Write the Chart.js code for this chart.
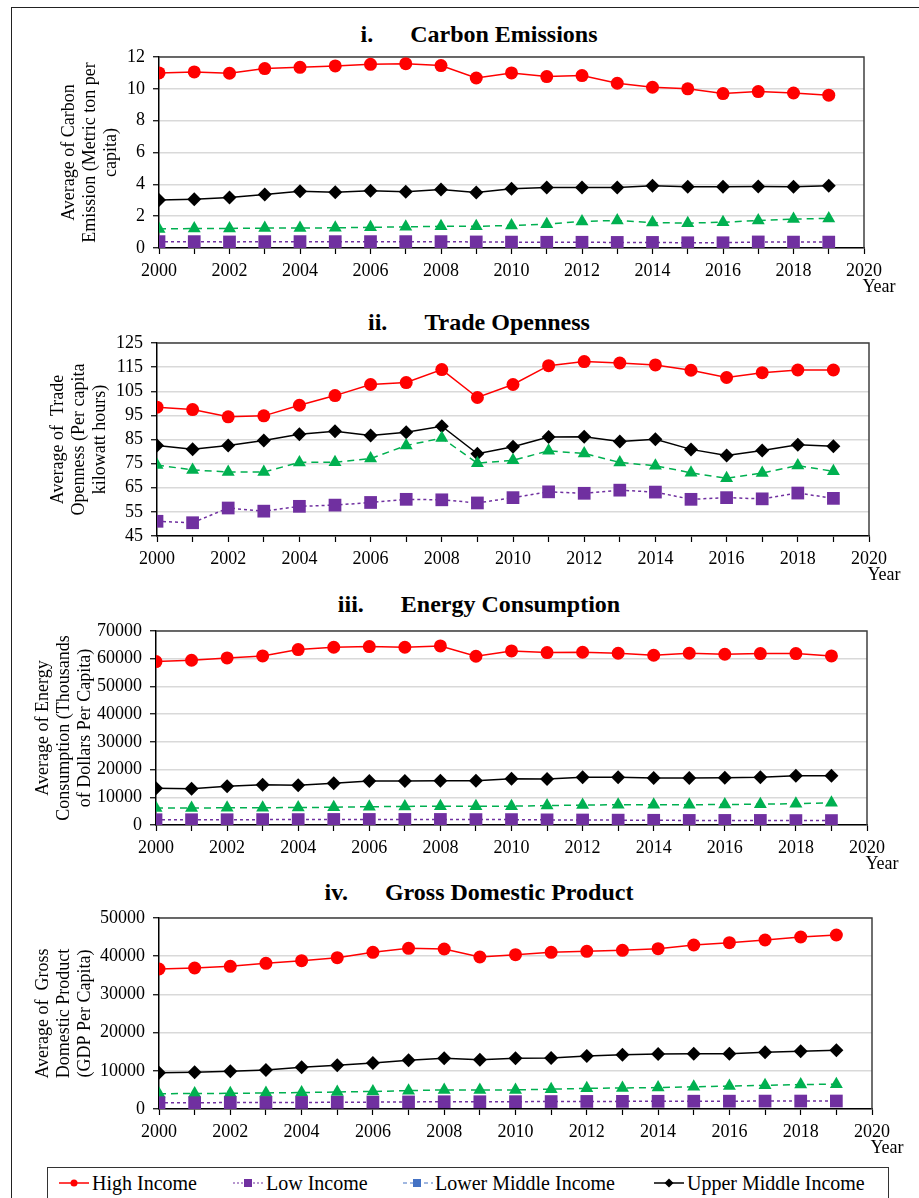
<!DOCTYPE html>
<html>
<head>
<meta charset="utf-8">
<script src="https://cdn.jsdelivr.net/npm/chart.js@4.4.0/dist/chart.umd.min.js"></script>
<style>
body { margin:0; background:#fff; font-family:"Liberation Serif", "Times New Roman", serif; }
#page { position:relative; width:919px; height:1198px; overflow:hidden; background:#fff; }
#frame { position:absolute; left:11px; top:7px; width:1000px; height:1300px; border-left:1.5px solid #222; border-top:1.5px solid #222; }
.ttl { position:absolute; left:0; width:958px; text-align:center; font-weight:bold; font-size:24px; line-height:28px; white-space:pre; color:#000; }
.ttl .w { margin-left:37px; }
canvas.c { position:absolute; left:0; }
#legend { position:absolute; left:47px; top:1167px; width:840px; height:80px; border:1.5px solid #333; }
.lt { position:absolute; top:1171px; font-size:20px; line-height:24px; white-space:nowrap; color:#000; }
.lm { position:absolute; top:1177px; }
</style>
</head>
<body>
<div id="page">
  <div id="frame"></div>

  <div class="ttl" style="top:20px">i.<span class="w">Carbon Emissions</span></div>
  <div class="ttl" style="top:308px">ii.<span class="w">Trade Openness</span></div>
  <div class="ttl" style="top:590px">iii.<span class="w">Energy Consumption</span></div>
  <div class="ttl" style="top:878px">iv.<span class="w">Gross Domestic Product</span></div>

  <canvas class="c" id="c1"></canvas>
  <canvas class="c" id="c2"></canvas>
  <canvas class="c" id="c3"></canvas>
  <canvas class="c" id="c4"></canvas>

  <div id="legend"></div>
  <svg class="lm" style="left:59px" width="30" height="12"><line x1="0" y1="6" x2="30" y2="6" stroke="#ff0000" stroke-width="1.5"/><circle cx="15" cy="6" r="3.5" fill="#ff0000"/></svg>
  <div class="lt" style="left:92px">High Income</div>
  <svg class="lm" style="left:233px" width="30" height="12"><line x1="0" y1="6" x2="30" y2="6" stroke="#7030a0" stroke-width="1.2" stroke-dasharray="2,2"/><rect x="11" y="2" width="8" height="8" fill="#7030a0"/></svg>
  <div class="lt" style="left:266px">Low Income</div>
  <svg class="lm" style="left:403px" width="30" height="12"><line x1="0" y1="6" x2="30" y2="6" stroke="#4472c4" stroke-width="1.2" stroke-dasharray="4,3"/><rect x="10" y="2" width="8" height="8" fill="#4472c4"/></svg>
  <div class="lt" style="left:435px">Lower Middle Income</div>
  <svg class="lm" style="left:654px" width="30" height="12"><line x1="0" y1="6" x2="30" y2="6" stroke="#000" stroke-width="1.5"/><polygon points="15,1.5 19.5,6 15,10.5 10.5,6" fill="#000"/></svg>
  <div class="lt" style="left:687px">Upper Middle Income</div>
</div>

<script>
const years = [2000, 2001, 2002, 2003, 2004, 2005, 2006, 2007, 2008, 2009,
               2010, 2011, 2012, 2013, 2014, 2015, 2016, 2017, 2018, 2019];
const seriesNames = ["High Income", "Low Income", "Lower Middle Income", "Upper Middle Income"];

// i. Carbon Emissions
const carbonHigh  = [11.0, 11.06, 10.98, 11.27, 11.35, 11.44, 11.54, 11.58, 11.46, 10.68, 11.0, 10.77, 10.83, 10.35, 10.1, 10.0, 9.7, 9.83, 9.74, 9.6];
const carbonLow   = [0.4, 0.4, 0.38, 0.4, 0.4, 0.4, 0.4, 0.4, 0.4, 0.38, 0.37, 0.36, 0.36, 0.35, 0.35, 0.33, 0.33, 0.38, 0.37, 0.37];
const carbonLower = [1.2, 1.22, 1.23, 1.25, 1.25, 1.27, 1.3, 1.33, 1.36, 1.36, 1.42, 1.5, 1.67, 1.73, 1.6, 1.56, 1.62, 1.73, 1.82, 1.86];
const carbonUpper = [3.01, 3.07, 3.17, 3.36, 3.57, 3.51, 3.59, 3.53, 3.68, 3.49, 3.72, 3.8, 3.8, 3.8, 3.91, 3.85, 3.85, 3.87, 3.85, 3.91];

// ii. Trade Openness
const tradeHigh  = [98.4, 97.4, 94.4, 94.8, 99.2, 103.2, 107.8, 108.6, 114.0, 102.4, 107.8, 115.6, 117.3, 116.7, 115.9, 113.7, 110.7, 112.7, 113.8, 113.8];
const tradeLow   = [51.1, 50.5, 56.6, 55.3, 57.3, 57.8, 58.9, 60.2, 60.0, 58.7, 60.9, 63.3, 62.7, 64.0, 63.2, 60.2, 60.9, 60.4, 62.8, 60.6];
const tradeLower = [74.4, 72.4, 71.5, 71.5, 75.5, 75.6, 77.1, 82.5, 85.6, 75.2, 76.4, 80.3, 79.2, 75.5, 74.1, 71.2, 68.9, 71.1, 74.2, 71.8];
const tradeUpper = [82.5, 81.0, 82.5, 84.6, 87.2, 88.4, 86.7, 88.0, 90.5, 79.1, 82.0, 86.0, 86.1, 84.2, 85.1, 80.9, 78.4, 80.4, 82.8, 82.2];

// iii. Energy Consumption
const energyHigh  = [58960, 59450, 60290, 61010, 63300, 64140, 64380, 64140, 64620, 60890, 62820, 62210, 62330, 61970, 61250, 61970, 61610, 61850, 61850, 61010];
const energyLow   = [1900, 1900, 1900, 1950, 1950, 2000, 2000, 2000, 2000, 1950, 1950, 1850, 1800, 1750, 1700, 1650, 1650, 1650, 1600, 1600];
const energyLower = [6100, 6150, 6200, 6250, 6300, 6400, 6600, 6700, 6800, 6750, 6800, 7000, 7200, 7300, 7300, 7300, 7400, 7500, 7700, 8000];
const energyUpper = [13240, 13120, 13960, 14560, 14320, 15040, 15880, 15880, 16000, 16000, 16730, 16610, 17210, 17210, 16970, 16970, 17090, 17210, 17810, 17810];

// iv. Gross Domestic Product
const gdpHigh  = [36650, 36910, 37350, 38130, 38830, 39620, 41010, 42060, 41880, 39790, 40400, 41010, 41270, 41540, 41970, 42930, 43540, 44240, 45030, 45550];
const gdpLow   = [1650, 1650, 1680, 1700, 1720, 1750, 1800, 1850, 1900, 1900, 1920, 1950, 1980, 2000, 2020, 2040, 2050, 2070, 2080, 2090];
const gdpLower = [4000, 4050, 4100, 4200, 4300, 4450, 4600, 4800, 5000, 4950, 5000, 5200, 5400, 5500, 5600, 5800, 6000, 6200, 6400, 6500];
const gdpUpper = [9510, 9600, 9860, 10210, 10910, 11430, 12040, 12740, 13260, 12910, 13260, 13350, 13870, 14220, 14400, 14490, 14490, 14830, 15100, 15360];

const FONT = "'Liberation Serif', 'Times New Roman', serif";
const PAD_TOP = 30;
const X_AXIS_H = 55;

// top/right border of plot + "Year" label
const plotFrame = {
  id: "plotFrame",
  beforeDatasetsDraw(chart) {
    const ctx = chart.ctx;
    const a = chart.chartArea;
    ctx.save();
    ctx.strokeStyle = "#404040";
    ctx.lineWidth = 1.5;
    ctx.beginPath();
    ctx.moveTo(a.left, a.top);
    ctx.lineTo(a.right, a.top);
    ctx.lineTo(a.right, a.bottom);
    ctx.stroke();
    ctx.fillStyle = "#000";
    ctx.font = "18px " + FONT;
    ctx.textAlign = "center";
    ctx.textBaseline = "alphabetic";
    ctx.fillText("Year", a.right + 15, a.bottom + 44);
    ctx.restore();
  }
};

function pts(arr) {
  return years.map((yr, i) => ({ x: yr, y: arr[i] }));
}

function makeChart(id, c) {
  const cv = document.getElementById(id);
  const top = c.plotTop - PAD_TOP;
  const h = c.plotBottom - c.plotTop + PAD_TOP + X_AXIS_H;
  cv.width = 919;
  cv.height = h;
  cv.style.top = top + "px";
  const padL = c.titleX - 10.5;

  new Chart(cv, {
    type: "line",
    data: {
      datasets: [
        { label: seriesNames[0], data: pts(c.high), borderColor: "#ff0000", backgroundColor: "#ff0000",
          borderWidth: 1.5, pointStyle: "circle", pointRadius: 6.5, pointBorderWidth: 0 },
        { label: seriesNames[1], data: pts(c.low), borderColor: "#7030a0", backgroundColor: "#7030a0",
          borderWidth: 1.5, borderDash: [3, 3], pointStyle: "rect", pointRadius: 9, pointBorderWidth: 0 },
        { label: seriesNames[2], data: pts(c.lower), borderColor: "#00b050", backgroundColor: "#00b050",
          borderWidth: 1.5, borderDash: [7, 5], pointStyle: "triangle", pointRadius: 7.5, pointBorderWidth: 0 },
        { label: seriesNames[3], data: pts(c.upper), borderColor: "#000000", backgroundColor: "#000000",
          borderWidth: 1.5, pointStyle: "rectRot", pointRadius: 7, pointBorderWidth: 0 }
      ]
    },
    options: {
      responsive: false,
      animation: false,
      layout: { padding: { top: PAD_TOP, left: padL, right: 919 - c.plotRight, bottom: 0 } },
      plugins: { legend: { display: false }, tooltip: { enabled: false }, title: { display: false } },
      scales: {
        x: {
          type: "linear", min: 2000, max: 2020,
          ticks: {
            stepSize: 1, autoSkip: false, maxRotation: 0, color: "#000", padding: 6,
            font: { family: FONT, size: 18 },
            callback: (v) => (v % 2 === 0 ? String(v) : "")
          },
          grid: { drawOnChartArea: false, drawTicks: true, tickLength: 6, tickColor: "#000", tickWidth: 1.2 },
          border: { display: true, color: "#000", width: 1.5 },
          afterFit: (s) => { s.height = X_AXIS_H; }
        },
        y: {
          min: c.yMin, max: c.yMax,
          ticks: {
            stepSize: c.yStep, autoSkip: false, color: "#000", padding: 8,
            font: { family: FONT, size: 18 },
            callback: (v) => String(v)
          },
          grid: { color: "#d9d9d9", lineWidth: 1.5, tickLength: 6, tickColor: "#000", tickWidth: 1.2 },
          border: { display: true, color: "#000", width: 1.5 },
          title: { display: true, text: c.yTitle, color: "#000", padding: 0,
                   font: { family: FONT, size: 18, lineHeight: 1.17 } },
          afterFit: (s) => { s.width = c.plotLeft - padL; }
        }
      }
    },
    plugins: [plotFrame]
  });
}

makeChart("c1", { plotTop: 57, plotBottom: 248, plotLeft: 159, plotRight: 864, titleX: 69,
  yMin: 0, yMax: 12, yStep: 2,
  yTitle: ["Average of Carbon", "Emission (Metric ton per", "capita)"],
  high: carbonHigh, low: carbonLow, lower: carbonLower, upper: carbonUpper });

makeChart("c2", { plotTop: 343, plotBottom: 536, plotLeft: 157, plotRight: 869, titleX: 58,
  yMin: 45, yMax: 125, yStep: 10,
  yTitle: ["Average of  Trade", "Openness (Per capita", "kilowatt hours)"],
  high: tradeHigh, low: tradeLow, lower: tradeLower, upper: tradeUpper });

makeChart("c3", { plotTop: 631, plotBottom: 825, plotLeft: 156, plotRight: 867, titleX: 43,
  yMin: 0, yMax: 70000, yStep: 10000,
  yTitle: ["Average of Energy", "Consumption (Thousands", "of Dollars Per Capita)"],
  high: energyHigh, low: energyLow, lower: energyLower, upper: energyUpper });

makeChart("c4", { plotTop: 918, plotBottom: 1109, plotLeft: 159, plotRight: 872, titleX: 43,
  yMin: 0, yMax: 50000, yStep: 10000,
  yTitle: ["Average of  Gross", "Domestic Product", "(GDP Per Capita)"],
  high: gdpHigh, low: gdpLow, lower: gdpLower, upper: gdpUpper });
</script>
</body>
</html>
